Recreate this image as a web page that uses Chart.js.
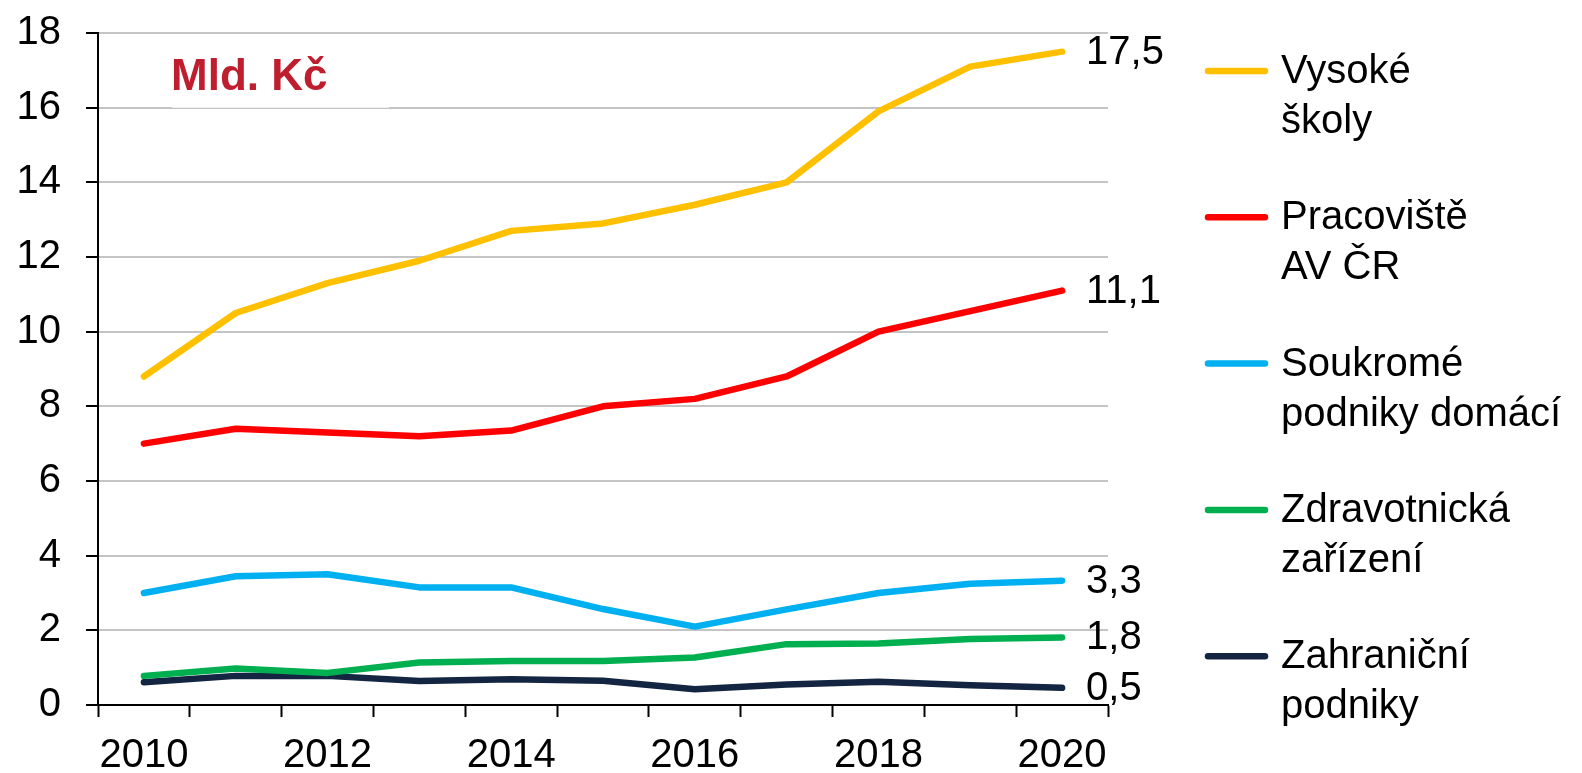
<!DOCTYPE html>
<html>
<head>
<meta charset="utf-8">
<script src="https://cdn.jsdelivr.net/npm/chart.js@4/dist/chart.umd.min.js"></script>
<style>
  html, body { margin: 0; padding: 0; background: #ffffff; }
  #wrap { width: 1582px; height: 773px; position: relative; }
</style>
</head>
<body>
<div id="wrap"><canvas id="c" width="1582" height="773"></canvas></div>
<script>
const years = ['2010','2011','2012','2013','2014','2015','2016','2017','2018','2019','2020'];
const yTicks = [0, 2, 4, 6, 8, 10, 12, 14, 16, 18];
const unitLabel = 'Mld. Kč';

const seriesNames = [
  ['Vysoké', 'školy'],
  ['Pracoviště', 'AV ČR'],
  ['Soukromé', 'podniky domácí'],
  ['Zdravotnická', 'zařízení'],
  ['Zahraniční', 'podniky']
];
const seriesColors = ['#FFC000', '#FF0000', '#00B0F0', '#00B050', '#142542'];

const vysokeSkoly   = [8.8, 10.5, 11.3, 11.9, 12.7, 12.9, 13.4, 14.0, 15.9, 17.1, 17.5];
const pracovisteAV  = [7.0, 7.4, 7.3, 7.2, 7.35, 8.0, 8.2, 8.8, 10.0, 10.55, 11.1];
const soukromePodn  = [3.0, 3.45, 3.5, 3.15, 3.15, 2.57, 2.1, 2.56, 3.0, 3.25, 3.33];
const zdravotnicka  = [0.78, 0.98, 0.86, 1.14, 1.18, 1.18, 1.27, 1.63, 1.65, 1.77, 1.81];
const zahranicni    = [0.61, 0.78, 0.78, 0.64, 0.69, 0.65, 0.42, 0.55, 0.62, 0.53, 0.46];

const seriesValues = [vysokeSkoly, pracovisteAV, soukromePodn, zdravotnicka, zahranicni];

const FONT = '"Liberation Sans", Arial, Helvetica, sans-serif';

const datasets = seriesValues.map((vals, i) => ({
  label: seriesNames[i].join(' '),
  data: vals,
  borderColor: seriesColors[i],
  backgroundColor: seriesColors[i],
  borderWidth: 6.5,
  borderCapStyle: 'round',
  borderJoinStyle: 'round',
  pointRadius: 0,
  pointHoverRadius: 0,
  tension: 0,
  fill: false
}));

const decor = {
  id: 'decor',
  beforeDatasetsDraw(chart) {
    const ctx = chart.ctx;
    ctx.save();
    ctx.fillStyle = 'rgba(255,255,255,0.75)';
    ctx.fillRect(172, 40, 217, 68);
    ctx.fillStyle = '#BE1E2D';
    ctx.font = 'bold 44px ' + FONT;
    ctx.textAlign = 'left';
    ctx.textBaseline = 'alphabetic';
    ctx.fillText(unitLabel, 171, 90);
    ctx.restore();
  },
  afterDraw(chart) {
    const ctx = chart.ctx;
    ctx.save();
    // end value labels
    ctx.font = '40px ' + FONT;
    ctx.fillStyle = '#000000';
    ctx.textAlign = 'left';
    ctx.textBaseline = 'middle';
    chart.data.datasets.forEach((ds, i) => {
      const meta = chart.getDatasetMeta(i);
      const last = meta.data[meta.data.length - 1];
      const v = ds.data[ds.data.length - 1];
      ctx.fillText(v.toFixed(1).replace('.', ','), last.x + 24, last.y + 1);
    });
    // legend
    const x0 = 1208, x1 = 1265, tx = 1281;
    seriesNames.forEach((lines, i) => {
      const y = 71 + i * 146.3;
      ctx.strokeStyle = seriesColors[i];
      ctx.lineWidth = 6.5;
      ctx.lineCap = 'round';
      ctx.beginPath();
      ctx.moveTo(x0, y);
      ctx.lineTo(x1, y);
      ctx.stroke();
      ctx.fillStyle = '#000000';
      ctx.textBaseline = 'alphabetic';
      lines.forEach((t, j) => ctx.fillText(t, tx, y + 12 + j * 50));
    });
    ctx.restore();
  }
};

new Chart(document.getElementById('c'), {
  type: 'line',
  data: { labels: years, datasets },
  options: {
    responsive: false,
    animation: false,
    layout: { padding: { top: 33, right: 474, left: 0, bottom: 0 } },
    plugins: { legend: { display: false }, tooltip: { enabled: false } },
    scales: {
      x: {
        type: 'category',
        offset: true,
        grid: {
          offset: true,
          drawOnChartArea: false,
          drawTicks: true,
          tickLength: 12,
          tickColor: '#000000',
          tickWidth: 2
        },
        border: { color: '#000000', width: 2 },
        ticks: {
          autoSkip: false,
          maxRotation: 0,
          minRotation: 0,
          padding: 15,
          color: '#000000',
          font: { family: FONT, size: 40 },
          callback: function(value, index) { return index % 2 === 0 ? years[index] : ''; }
        },
        afterFit: (s) => { s.height = 68; s.paddingLeft = 0; s.paddingRight = 0; }
      },
      y: {
        min: yTicks[0],
        max: yTicks[yTicks.length - 1],
        afterBuildTicks: (s) => { s.ticks = yTicks.map(v => ({ value: v })); },
        grid: {
          color: '#C4C4C4',
          lineWidth: 2,
          drawTicks: true,
          tickLength: 12,
          tickColor: '#000000',
          tickWidth: 2
        },
        border: { color: '#000000', width: 2 },
        ticks: {
          padding: 25,
          color: '#000000',
          font: { family: FONT, size: 40 }
        },
        afterFit: (s) => { s.width = 98; s.paddingTop = 0; s.paddingBottom = 0; }
      }
    }
  },
  plugins: [decor]
});
</script>
</body>
</html>
